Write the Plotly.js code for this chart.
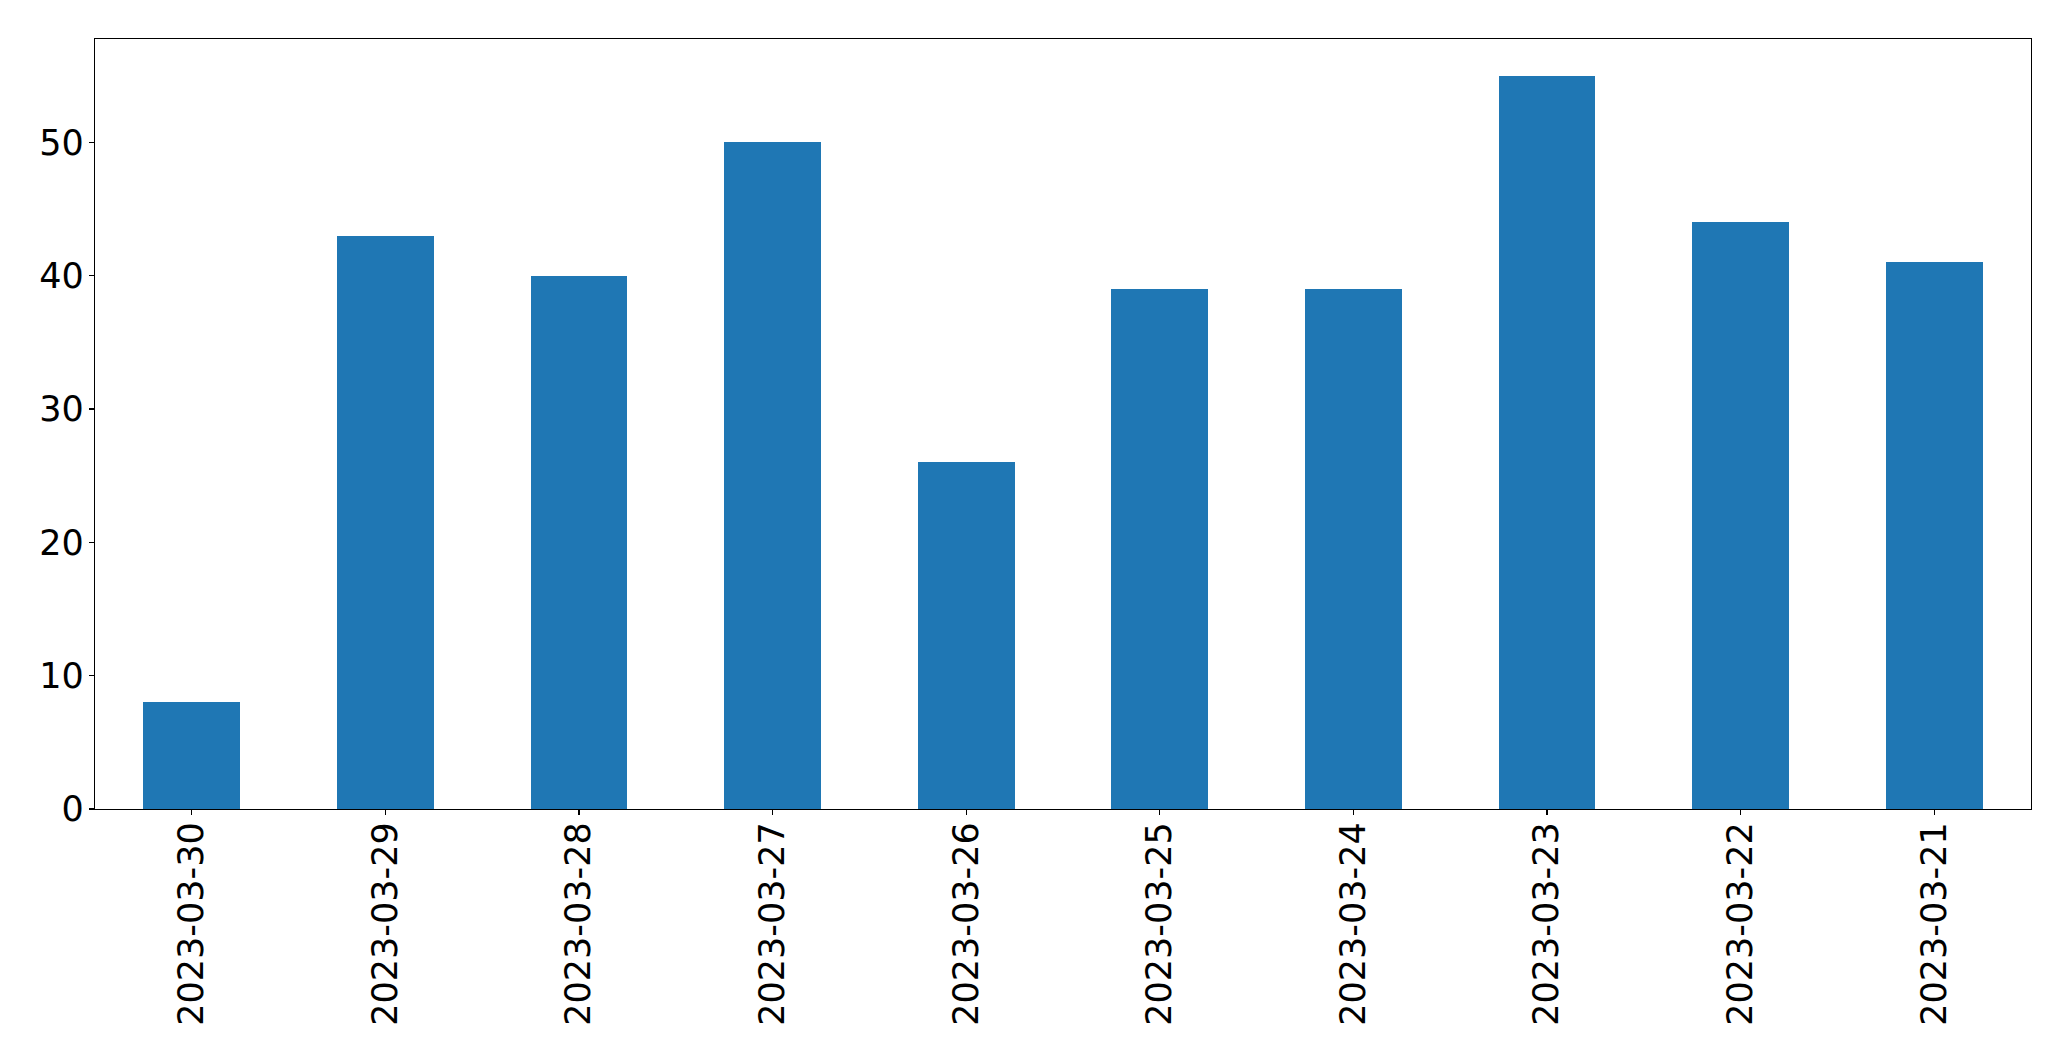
<!DOCTYPE html>
<html>
<head>
<meta charset="utf-8">
<script src="https://cdn.plot.ly/plotly-3.0.1.min.js"></script>
<style>html,body{margin:0;padding:0;background:#fff;}#chart{width:2071px;height:1061px;}</style>
</head>
<body>
<div id="chart"></div>
<script>
const categories = ["2023-03-30","2023-03-29","2023-03-28","2023-03-27","2023-03-26","2023-03-25","2023-03-24","2023-03-23","2023-03-22","2023-03-21"];
const values = [8, 43, 40, 50, 26, 39, 39, 55, 44, 41];
const yTicks = [0, 10, 20, 30, 40, 50];

const trace = {
  type: 'bar',
  x: categories,
  y: values,
  width: 0.5,
  marker: {color: '#1f77b4', line: {width: 0}},
  hoverinfo: 'x+y'
};

const layout = {
  width: 2071,
  height: 1061,
  margin: {l: 94.5, r: 40, t: 39, b: 252, pad: 0},
  paper_bgcolor: '#ffffff',
  plot_bgcolor: '#ffffff',
  font: {family: 'DejaVu Sans', size: 35, color: '#000000'},
  showlegend: false,
  bargap: 0,
  xaxis: {
    type: 'category',
    range: [-0.5, 9.5],
    tickangle: -90,
    ticks: 'outside',
    ticklen: 5,
    tickwidth: 1.3,
    tickcolor: '#000',
    showline: true,
    linecolor: '#000',
    linewidth: 1.3,
    mirror: true,
    showgrid: false,
    zeroline: false,
    ticklabelstandoff: -7,
    tickfont: {family: 'DejaVu Sans', size: 35, color: '#000'}
  },
  yaxis: {
    range: [0, 57.75],
    tickmode: 'array',
    tickvals: yTicks,
    ticktext: yTicks.map(String),
    ticks: 'outside',
    ticklen: 5,
    tickwidth: 1.3,
    tickcolor: '#000',
    showline: true,
    linecolor: '#000',
    linewidth: 1.3,
    mirror: true,
    showgrid: false,
    zeroline: false,
    ticklabelstandoff: -2,
    tickfont: {family: 'DejaVu Sans', size: 35, color: '#000'}
  }
};

Plotly.newPlot('chart', [trace], layout, {displayModeBar: false, staticPlot: true});
</script>
</body>
</html>
